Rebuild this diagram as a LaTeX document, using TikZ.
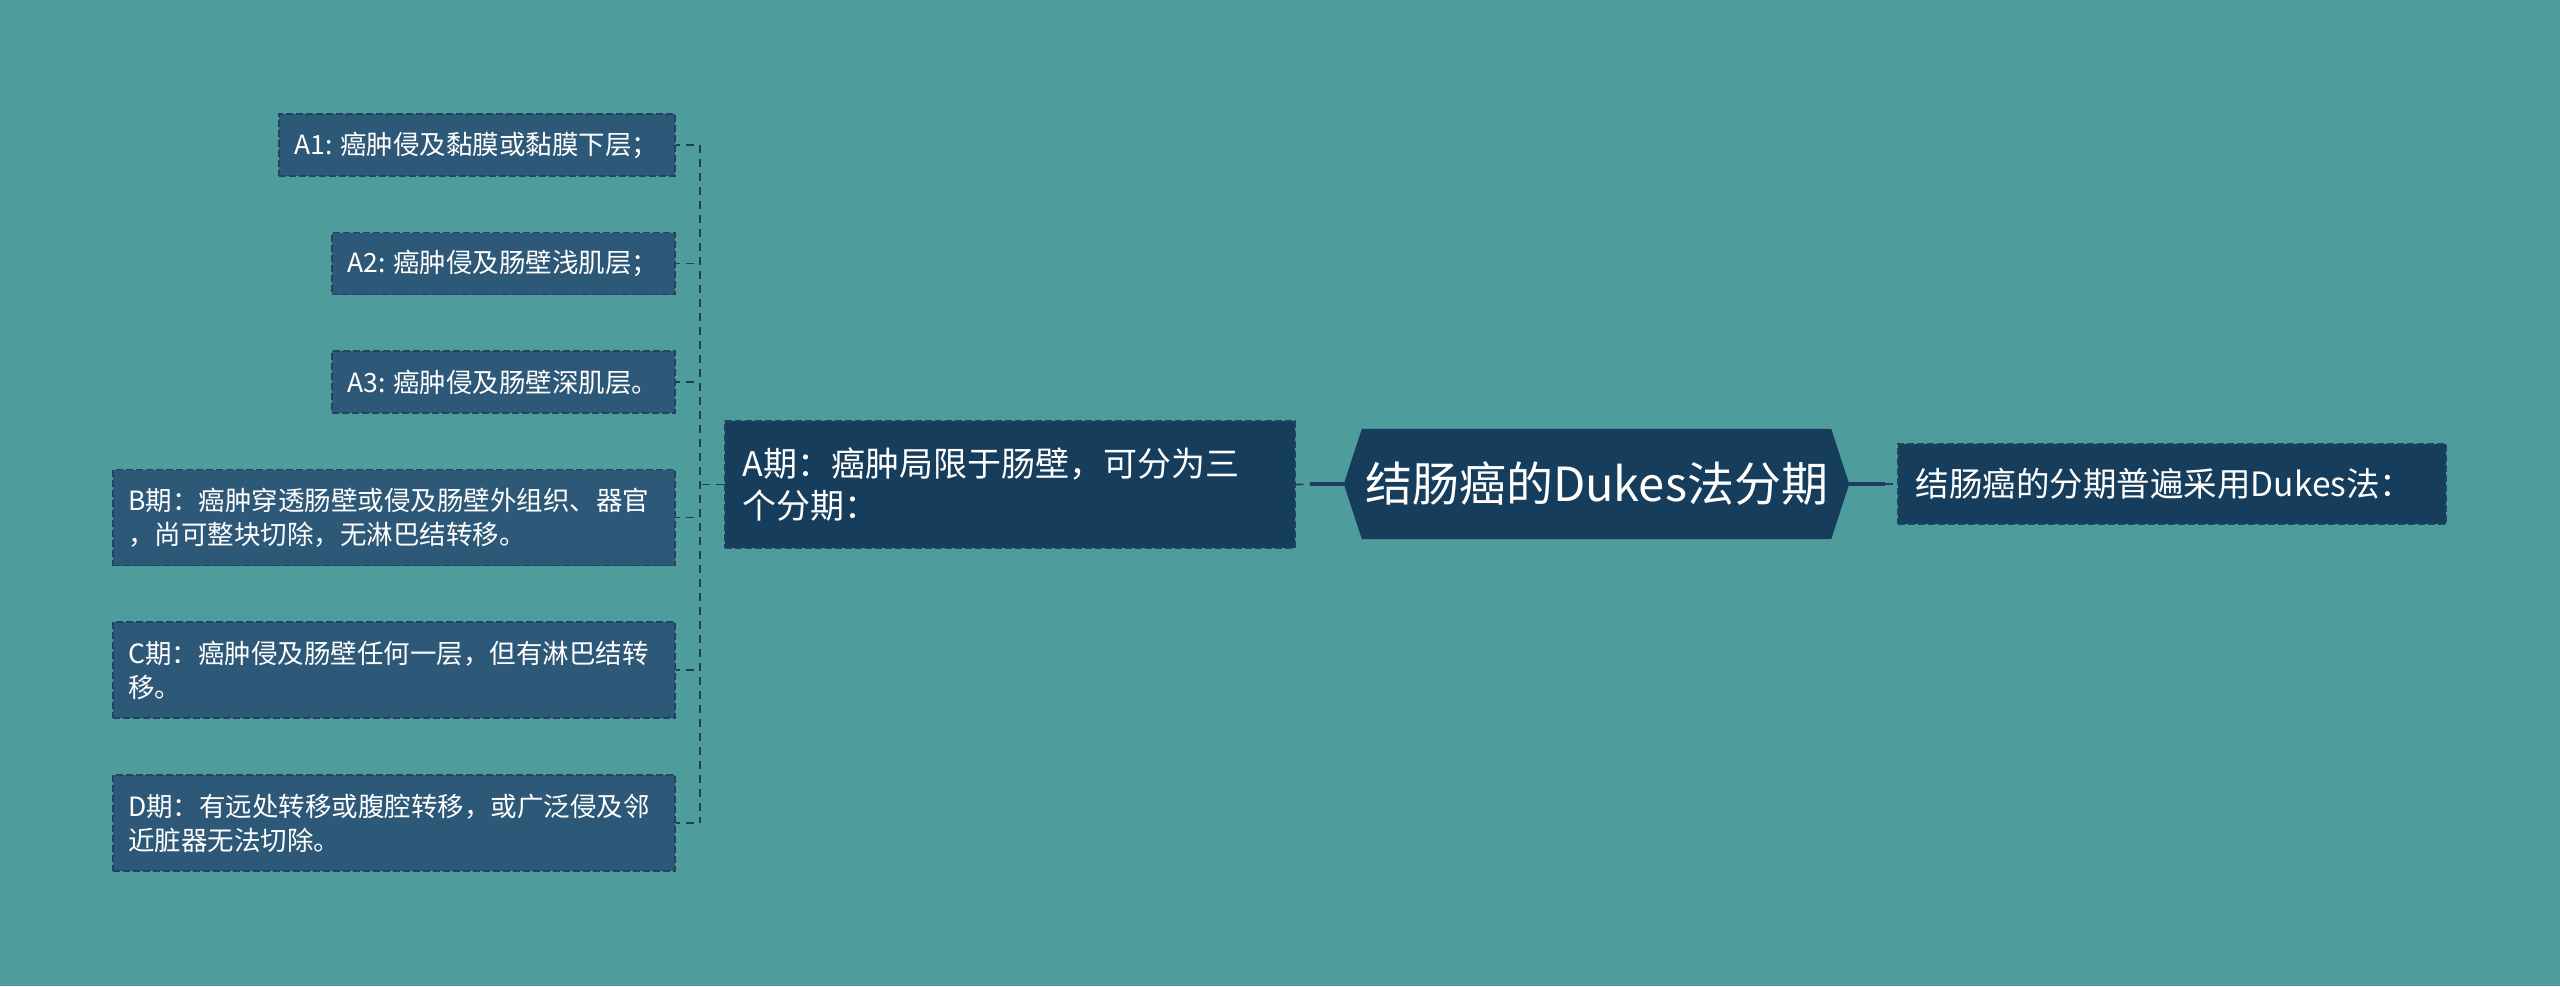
\documentclass[tikz,border=0pt]{standalone}
\usepackage{fontspec}
\setmainfont{Noto Sans CJK SC}
\usetikzlibrary{calc,backgrounds}
\definecolor{bg}{HTML}{4E9D9C}
\definecolor{navy}{HTML}{173D5C}
\definecolor{child}{HTML}{2D5877}
\definecolor{edge}{HTML}{1E4662}
\definecolor{wire}{HTML}{1B3F5C}
\tikzset{
  childbox/.style={fill=child, draw=edge, line width=1.6pt, dash pattern=on 7pt off 3pt,
    text=white, font=\fontsize{26.5}{34}\selectfont, align=left, inner xsep=15pt,
    inner ysep=0pt, anchor=east},
  mainbox/.style={fill=navy, draw=edge, line width=1.6pt, dash pattern=on 7pt off 3pt,
    text=white, align=left, inner xsep=18pt, inner ysep=0pt},
  wired/.style={draw=wire, line width=1.6pt, dash pattern=on 8pt off 6pt},
  wirethick/.style={draw=wire, line width=4pt},
}
\begin{document}
\begin{tikzpicture}[x=1pt,y=-1pt]
\useasboundingbox (0,0) rectangle (2560,986);
\begin{pgfonlayer}{background}
\fill[bg] (0,0) rectangle (2560,986);
\end{pgfonlayer}

% central node
\node[text=white, font=\fontsize{47}{54}\selectfont, minimum width=469pt, minimum height=110pt, inner sep=0pt]
  (c) at (1596.5,484) {结肠癌的Dukes法分期};
\coordinate (cw) at ($(c.west)+(-18,0)$);
\coordinate (ce) at ($(c.east)+(18,0)$);
\begin{pgfonlayer}{background}
\fill[navy] (cw) -- (c.north west) -- (c.north east) -- (ce) -- (c.south east) -- (c.south west) -- cycle;
\end{pgfonlayer}

% right node
\node[mainbox, font=\fontsize{33.5}{42}\selectfont, text width=512pt, minimum height=80pt, anchor=west]
  (r) at (1897,484) {\mbox{结肠癌的分期普遍采用Dukes法：}};

% A stage node
\node[mainbox, font=\fontsize{34}{42}\selectfont, text width=534pt, minimum height=127pt, anchor=east]
  (ab) at (1295.5,484.5) {A期：癌肿局限于肠壁，可分为三\\个分期：};

% children
\node[childbox, text width=366pt, minimum height=62pt] (a1) at (676,145) {\mbox{A1:\hspace{8pt}癌肿侵及黏膜或黏膜下层；}};
\node[childbox, text width=313pt, minimum height=62pt] (a2) at (676,263.5) {\mbox{A2:\hspace{8pt}癌肿侵及肠壁浅肌层；}};
\node[childbox, text width=313pt, minimum height=62pt] (a3) at (676,382) {\mbox{A3:\hspace{8pt}癌肿侵及肠壁深肌层。}};
\node[childbox, text width=532pt, minimum height=96pt] (b) at (676,517.5) {B期：癌肿穿透肠壁或侵及肠壁外组织、器官\\，尚可整块切除，无淋巴结转移。};
\node[childbox, text width=532pt, minimum height=96pt] (cc) at (676,670) {C期：癌肿侵及肠壁任何一层，但有淋巴结转\\移。};
\node[childbox, text width=532pt, minimum height=96pt] (d) at (676,823) {D期：有远处转移或腹腔转移，或广泛侵及邻\\近脏器无法切除。};

% spine
\coordinate (sp) at (700,484.5);
\draw[wired] (a1.east -| sp) -- (d.east -| sp);
\draw[wired] (ab.west) -- (sp);
\foreach \n in {a1,a2,a3,b,cc,d}{
  \draw[wired, dash phase=4pt] (\n.east) -- (\n.east -| sp);
}

% central connectors
\draw[wired] (ab.east) -- (cw);
\draw[wirethick] ($(cw)+(-34,0)$) -- (cw);
\draw[wirethick] (ce) -- ($(ce)+(36,0)$);
\draw[wired] ($(ce)+(36,0)$) -- (r.west);
\end{tikzpicture}
\end{document}
